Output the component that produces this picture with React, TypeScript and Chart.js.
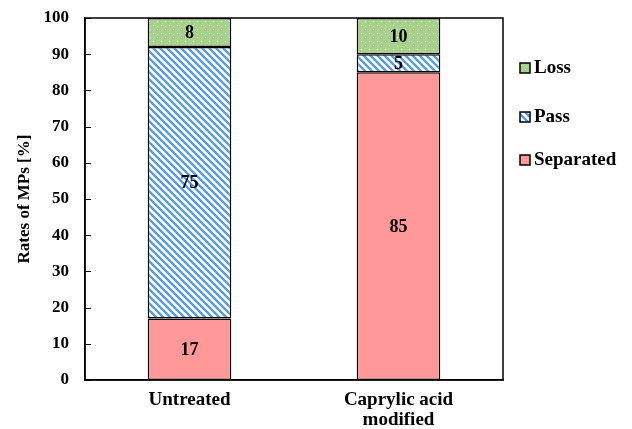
import React, { useEffect, useRef } from "react";
import { Chart, registerables } from "chart.js";

Chart.register(...registerables);

const categories: (string | string[])[] = ["Untreated", ["Caprylic acid", "modified"]];
const separated = [17, 85];
const pass = [75, 5];
const loss = [8, 10];
const seriesNames = ["Separated", "Pass", "Loss"];
const yTicks = [0, 10, 20, 30, 40, 50, 60, 70, 80, 90, 100];

const FONT = "'Liberation Serif', 'Times New Roman', serif";

function stripePattern(): CanvasPattern | string {
  const c = document.createElement("canvas");
  const s = 7;
  c.width = s;
  c.height = s;
  const ctx = c.getContext("2d");
  if (!ctx) return "#5b9bd5";
  ctx.fillStyle = "#ffffff";
  ctx.fillRect(0, 0, s, s);
  ctx.strokeStyle = "#5b9bd5";
  ctx.lineWidth = 2.4;
  ctx.beginPath();
  for (let k = -1; k <= 1; k++) {
    ctx.moveTo(k * s - 1, -1);
    ctx.lineTo(k * s + s + 1, s + 1);
  }
  ctx.stroke();
  const p = ctx.createPattern(c, "repeat");
  return p || "#5b9bd5";
}

function dotPattern(): CanvasPattern | string {
  const c = document.createElement("canvas");
  const s = 8;
  c.width = s;
  c.height = s;
  const ctx = c.getContext("2d");
  if (!ctx) return "#a9d18e";
  ctx.fillStyle = "#a9d18e";
  ctx.fillRect(0, 0, s, s);
  ctx.fillStyle = "#eef6e8";
  ctx.fillRect(1, 1, 1, 1);
  ctx.fillRect(5, 5, 1, 1);
  const p = ctx.createPattern(c, "repeat");
  return p || "#a9d18e";
}

export default function App() {
  const ref = useRef<HTMLCanvasElement | null>(null);

  useEffect(() => {
    if (!ref.current) return;
    const stripes = stripePattern();
    const dots = dotPattern();
    const fills = ["#ff9999", stripes, dots];

    const framePlugin = {
      id: "frame",
      afterDatasetsDraw(chart: any) {
        const { ctx, chartArea: a } = chart;
        const yScale = chart.scales.y;
        ctx.save();
        ctx.strokeStyle = "#000";
        ctx.lineWidth = 1.5;
        ctx.strokeRect(a.left, a.top, a.right - a.left, a.bottom - a.top);
        // inner ticks on y axis
        ctx.lineWidth = 1.2;
        ctx.beginPath();
        yTicks.forEach((v) => {
          const y = Math.round(yScale.getPixelForValue(v)) + 0.5;
          ctx.moveTo(a.left, y);
          ctx.lineTo(a.left + 6, y);
        });
        ctx.stroke();
        // value labels
        ctx.fillStyle = "#000";
        ctx.font = `bold 18px ${FONT}`;
        ctx.textAlign = "center";
        ctx.textBaseline = "middle";
        chart.data.datasets.forEach((ds: any, di: number) => {
          const meta = chart.getDatasetMeta(di);
          meta.data.forEach((bar: any, i: number) => {
            const v = ds.data[i];
            const yMid = (bar.y + bar.base) / 2;
            ctx.fillText(String(v), bar.x, yMid + 1);
          });
        });
        // legend
        const order = [2, 1, 0];
        const lx = a.right + 17;
        const ys = [a.top + 50, a.top + 99, a.top + 142];
        ctx.textAlign = "left";
        ctx.font = `bold 19px ${FONT}`;
        order.forEach((di, k) => {
          const y = ys[k];
          ctx.fillStyle = fills[di] as any;
          ctx.fillRect(lx, y - 5, 10, 10);
          ctx.strokeStyle = "#000";
          ctx.lineWidth = 1.5;
          ctx.strokeRect(lx, y - 5, 10, 10);
          ctx.fillStyle = "#000";
          ctx.fillText(seriesNames[di], lx + 14, y);
        });
        ctx.restore();
      },
    };

    const chart = new Chart(ref.current, {
      type: "bar",
      data: {
        labels: categories as any,
        datasets: [
          { label: seriesNames[0], data: separated, backgroundColor: fills[0] as any },
          { label: seriesNames[1], data: pass, backgroundColor: fills[1] as any },
          { label: seriesNames[2], data: loss, backgroundColor: fills[2] as any },
        ].map((d) => ({
          ...d,
          borderColor: "#000",
          borderWidth: 1.5,
          borderSkipped: false,
          barPercentage: 0.4,
          categoryPercentage: 1,
        })),
      },
      options: {
        animation: false,
        responsive: true,
        maintainAspectRatio: false,
        layout: { padding: { top: 18, right: 129, bottom: 0, left: 14 } },
        plugins: {
          legend: { display: false },
          tooltip: { enabled: false },
        },
        scales: {
          x: {
            stacked: true,
            grid: { display: false, drawTicks: false },
            border: { display: true, color: "#000", width: 1.5 },
            ticks: {
              color: "#000",
              font: { family: FONT, size: 19, weight: "bold", lineHeight: 1.05 },
              padding: 10,
              maxRotation: 0,
            },
            afterFit(scale: any) {
              scale.height = 49;
              scale.paddingLeft = 0;
              scale.paddingRight = 0;
            },
          },
          y: {
            stacked: true,
            min: 0,
            max: 100,
            afterBuildTicks(scale: any) {
              scale.ticks = yTicks.map((v) => ({ value: v }));
            },
            grid: {
              display: false,
              drawOnChartArea: false,
              drawTicks: false,
            },
            border: { display: true, color: "#000", width: 1.5 },
            ticks: {
              color: "#000",
              font: { family: FONT, size: 17, weight: "bold" },
              padding: 16,
            },
            title: {
              display: true,
              text: "Rates of MPs [%]",
              color: "#000",
              font: { family: FONT, size: 17, weight: "bold" },
              padding: { top: 0, bottom: 4 },
            },
            afterFit(scale: any) {
              scale.width = 71;
              scale.paddingTop = 0;
              scale.paddingBottom = 0;
            },
          },
        },
      },
      plugins: [framePlugin],
    });
    return () => chart.destroy();
  }, []);

  return (
    <div style={{ position: "fixed", left: 0, top: 0, width: 632, height: 429, background: "#fff" }}>
      <canvas ref={ref} />
    </div>
  );
}
